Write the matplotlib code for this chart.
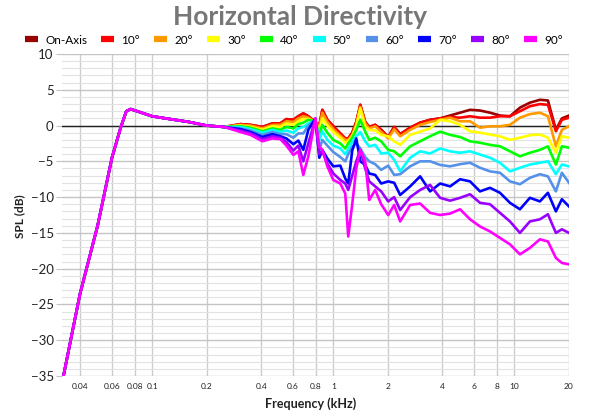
import matplotlib
matplotlib.use("Agg")
import matplotlib.pyplot as plt
from matplotlib.lines import Line2D
from matplotlib.ticker import NullLocator, FixedLocator, MultipleLocator

plt.rcParams['font.family'] = ['Lato', 'DejaVu Sans']

# ---- data ----
series_names = ["On-Axis", "10°", "20°", "30°", "40°", "50°", "60°", "70°", "80°", "90°"]
series_colors = ["#990000", "#FF0000", "#FF9900", "#FFFF00", "#00FF00",
                 "#00FFFF", "#5591E8", "#0000FF", "#9900FF", "#FF00FF"]

# shared low-frequency part (kHz, dB)
freq_low_khz = [0.0318, 0.04, 0.05, 0.06, 0.067, 0.072, 0.076, 0.085, 0.1, 0.126, 0.16, 0.2, 0.25]
spl_low_db = [-36.0, -23.5, -14.0, -4.5, -0.3, 2.0, 2.3, 1.9, 1.3, 0.9, 0.5, 0.0, -0.2]

freq_khz = [0.307, 0.349, 0.406, 0.461, 0.51, 0.551, 0.602, 0.641, 0.683, 0.728,
            0.796, 0.837, 0.870, 0.927, 1.0, 1.093, 1.164, 1.209, 1.272, 1.339,
            1.409, 1.50, 1.579, 1.703, 1.838, 2.009, 2.168, 2.339, 2.656, 3.015,
            3.422, 3.886, 4.412, 5.009, 5.685, 6.454, 7.328, 8.32, 9.445, 10.72,
            12.17, 13.82, 15.3, 16.93, 18.27, 20.0]

spl_on_axis = [0.2, 0.1, -0.2, 0.3, 0.3, 0.9, 0.8, 1.3, 1.7, 1.3,
               0.5, 0.0, 2.2, 0.8, -0.1, -1.1, -1.8, -1.8, -1.0, 0.5,
               2.9, 0.5, -0.2, 0.1, -0.6, -1.6, -0.2, -1.2, -0.3, 0.4,
               0.8, 1.0, 1.4, 1.8, 2.2, 2.1, 1.8, 1.4, 1.3, 2.5,
               3.2, 3.6, 3.5, -0.6, 1.0, 1.4]
spl_10 = [0.2, 0.1, -0.2, 0.3, 0.3, 0.9, 0.8, 1.3, 1.7, 1.3,
          0.5, 0.0, 2.2, 0.8, -0.1, -1.1, -1.8, -1.8, -1.0, 0.5,
          2.9, 0.5, -0.2, 0.1, -0.6, -1.6, -0.2, -1.2, -0.3, 0.4,
          0.8, 1.0, 1.2, 1.1, 1.3, 1.1, 1.1, 1.3, 1.3, 2.0,
          2.7, 3.0, 2.9, -0.8, 0.8, 1.1]
spl_20 = [0.1, 0.0, -0.4, 0.1, 0.1, 0.6, 0.5, 1.0, 1.3, 1.1,
          0.5, -0.3, 1.8, 0.5, -0.5, -1.4, -2.0, -2.0, -1.3, 0.2,
          2.6, 0.3, -0.4, -0.1, -0.9, -1.8, -0.5, -1.5, -0.6, 0.1,
          0.5, 0.8, 1.1, 0.6, 0.6, -0.3, -0.1, -0.1, 0.1, 1.1,
          1.6, 1.8, 1.3, -2.9, -0.6, -0.1]
spl_30 = [0.0, -0.2, -0.6, -0.1, -0.2, 0.3, 0.1, 0.6, 0.9, 0.9,
          0.5, -0.7, 1.0, 0.0, -0.9, -1.7, -2.4, -2.2, -1.5, -0.1,
          2.4, -0.2, -0.6, -0.7, -1.3, -1.5, -2.2, -2.7, -1.3, -0.85,
          -0.4, 0.8, 0.6, 0.1, -0.8, -1.0, -1.25, -1.5, -2.0, -1.7,
          -1.35, -1.25, -1.7, -3.8, -1.5, -1.7]
spl_40 = [-0.1, -0.3, -0.8, -0.4, -0.6, -0.2, -0.4, 0.2, 0.4, 0.8,
          0.6, -1.3, 0.1, -1.0, -2.0, -2.5, -3.2, -2.5, -1.7, -0.6,
          0.8, -0.85, -2.0, -1.7, -2.2, -3.4, -3.6, -4.3, -2.9, -2.2,
          -1.5, -0.85, -1.3, -1.6, -2.2, -2.4, -2.7, -2.9, -3.6, -4.3,
          -3.8, -3.4, -2.9, -5.45, -2.9, -3.1]
spl_50 = [-0.2, -0.5, -1.0, -0.6, -0.9, -0.7, -1.0, -0.4, -0.2, 0.3,
          0.7, -2.0, -0.8, -2.0, -2.8, -3.2, -4.0, -3.3, -2.3, -1.5,
          -0.9, -2.2, -2.9, -2.7, -3.9, -3.8, -4.8, -6.4, -4.5, -3.6,
          -3.9, -3.2, -3.6, -3.8, -3.6, -4.05, -4.5, -5.2, -6.4, -5.9,
          -5.45, -5.2, -5.0, -6.8, -5.45, -5.7]
spl_60 = [-0.4, -0.7, -1.3, -0.9, -1.2, -1.2, -1.7, -1.1, -1.1, 0.0,
          0.8, -3.4, -2.0, -2.8, -3.7, -4.4, -5.0, -4.0, -3.0, -2.5,
          -3.2, -4.4, -5.0, -5.4, -6.2, -5.6, -6.9, -6.8, -5.7, -5.0,
          -5.0, -5.5, -5.7, -5.4, -5.2, -5.9, -6.4, -6.6, -7.8, -8.2,
          -7.3, -6.8, -7.1, -9.2, -6.6, -8.0]
spl_70 = [-0.5, -0.9, -1.6, -1.2, -1.5, -1.8, -2.6, -2.1, -3.4, -0.6,
          1.0, -4.5, -3.4, -4.6, -5.7, -5.6, -7.4, -8.1, -3.5, -1.8,
          -5.0, -5.5, -6.7, -6.9, -8.1, -7.8, -8.0, -9.7, -8.5, -7.1,
          -9.2, -8.1, -8.5, -7.5, -7.8, -9.2, -8.7, -9.4, -10.8, -11.7,
          -10.1, -10.6, -9.4, -12.0, -10.3, -11.3]
spl_80 = [-0.7, -1.1, -1.9, -1.5, -1.7, -2.3, -3.5, -2.8, -5.0, -2.5,
          0.9, -4.0, -3.6, -5.3, -6.7, -7.6, -8.1, -9.0, -7.0, -5.0,
          -3.4, -6.0, -7.8, -8.5, -9.2, -10.6, -10.0, -11.8, -10.0, -9.0,
          -8.3, -10.1, -10.5, -10.1, -9.6, -10.8, -11.0, -12.2, -13.4, -15.0,
          -13.4, -13.1, -12.4, -15.0, -14.5, -15.0]
spl_90 = [-0.9, -1.3, -2.2, -1.8, -1.9, -2.8, -4.1, -3.6, -6.9, -4.3,
          1.0, -3.0, -3.4, -5.7, -7.6, -8.1, -9.5, -15.5, -11.0, -6.0,
          -3.4, -5.0, -10.4, -9.0, -11.0, -12.5, -11.1, -13.4, -11.1, -10.9,
          -12.2, -12.5, -12.3, -11.7, -13.1, -14.1, -14.8, -15.7, -16.6, -18.0,
          -17.1, -15.9, -16.2, -18.5, -19.2, -19.4]

series_values = [spl_on_axis, spl_10, spl_20, spl_30, spl_40,
                 spl_50, spl_60, spl_70, spl_80, spl_90]

x_tick_values = [0.04, 0.06, 0.08, 0.1, 0.2, 0.4, 0.6, 0.8, 1, 2, 4, 6, 8, 10, 20]
x_tick_labels = ["0.04", "0.06", "0.08", "0.1", "0.2", "0.4", "0.6", "0.8",
                 "1", "2", "4", "6", "8", "10", "20"]

# ---- figure ----
fig = plt.figure(figsize=(6, 4.2), dpi=100, facecolor="white")
ax = fig.add_axes([62 / 600, 1 - 376 / 420, 507 / 600, 322 / 420])

ax.set_xscale("log")
ax.set_xlim(0.0318, 20)
ax.set_ylim(-35, 10)

ax.xaxis.set_major_locator(FixedLocator(x_tick_values))
ax.xaxis.set_minor_locator(NullLocator())
ax.set_xticklabels(x_tick_labels)
ax.yaxis.set_major_locator(MultipleLocator(5))
ax.yaxis.set_minor_locator(MultipleLocator(1))

ax.grid(which="major", axis="x", color="#cccccc", lw=1.0)
ax.grid(which="major", axis="y", color="#c4c4c4", lw=1.0)
ax.grid(which="minor", axis="y", color="#e2e2e2", lw=0.8)
ax.set_axisbelow(True)
for s in ax.spines.values():
    s.set_visible(False)

ax.tick_params(axis="x", which="both", length=0, labelsize=6, pad=5, labelcolor="#222222")
ax.tick_params(axis="y", which="major", length=4, color="#c4c4c4", labelsize=9.5, pad=2,
               labelcolor="#222222")
ax.tick_params(axis="y", which="minor", length=0)

ax.axhline(0, color="#222222", lw=1.0, zorder=1.5)

handles = []
for name, col, vals in zip(series_names, series_colors, series_values):
    xs = freq_low_khz + freq_khz
    ys = spl_low_db + vals
    ax.plot(xs, ys, color=col, lw=1.9, solid_joinstyle="round", zorder=2, clip_on=True)
    handles.append(Line2D([], [], color=col, lw=4.5, solid_capstyle="butt"))

fig.text(0.5, 1 - 17 / 420, "Horizontal Directivity", ha="center", va="center",
         fontsize=19, fontweight="bold", color="#777777")

fig.legend(handles, series_names, loc="center", bbox_to_anchor=(0.49, 1 - 40 / 420),
           ncol=10, frameon=False, fontsize=8.5, handlelength=1.1, handletextpad=0.6,
           columnspacing=1.2, borderaxespad=0)

fig.text(20 / 600, 1 - 216 / 420, "SPL (dB)", rotation=90, ha="center", va="center",
         fontsize=8.5, fontweight="bold", color="#222222")
fig.text(311 / 600, 1 - 404 / 420, "Frequency (kHz)", ha="center", va="center",
         fontsize=9, fontweight="bold", color="#222222")

fig.savefig("out.png", dpi=100, facecolor="white")
